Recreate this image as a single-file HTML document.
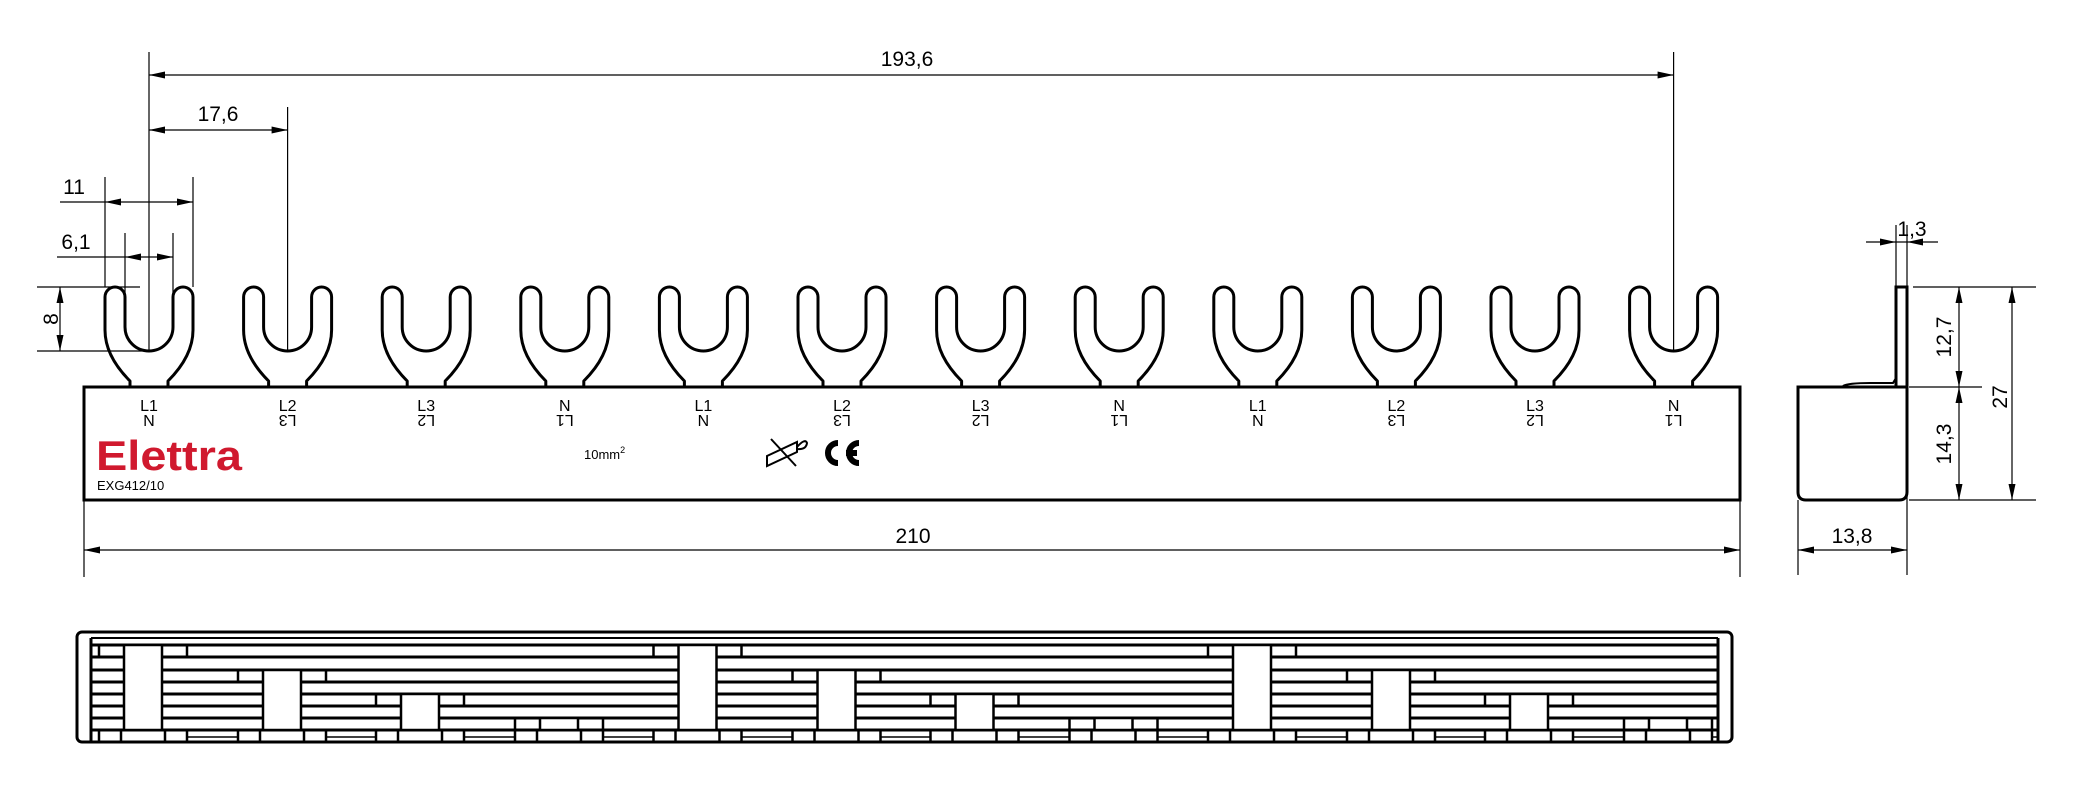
<!DOCTYPE html>
<html><head><meta charset="utf-8"><style>
html,body{margin:0;padding:0;background:#fff;}
svg{display:block;}
text{font-family:"Liberation Sans Narrow","Liberation Sans",sans-serif;fill:#000;}
</style></head><body>
<svg width="2089" height="802" viewBox="0 0 2089 802" xmlns="http://www.w3.org/2000/svg">
<defs>
<path id="fork" d="M-19,388 L-19,381 Q-44,356 -44,330 L-44,297 A10,10 0 0 1 -24,297 L-24,327 A24,24 0 0 0 24,327 L24,297 A10,10 0 0 1 44,297 L44,330 Q44,356 19,381 L19,388" fill="none" stroke="#000" stroke-width="3" stroke-linejoin="round"/>
<path id="arR" d="M0,0 L-16,-3.5 L-16,3.5 Z" fill="#000"/>
<path id="arL" d="M0,0 L16,-3.5 L16,3.5 Z" fill="#000"/>
<path id="arD" d="M0,0 L-3.5,-16 L3.5,-16 Z" fill="#000"/>
<path id="arU" d="M0,0 L-3.5,16 L3.5,16 Z" fill="#000"/>
<clipPath id="inner"><rect x="90" y="630" width="1629" height="120"/></clipPath>
</defs>

<path d="M84,500 L84,387 L1740,387 L1740,500 Z" fill="none" stroke="#000" stroke-width="3"/>
<use href="#fork" x="149"/><use href="#fork" x="287.6"/><use href="#fork" x="426.2"/><use href="#fork" x="564.8"/>
<use href="#fork" x="703.4"/><use href="#fork" x="842"/><use href="#fork" x="980.6"/><use href="#fork" x="1119.2"/>
<use href="#fork" x="1257.8"/><use href="#fork" x="1396.4"/><use href="#fork" x="1535"/><use href="#fork" x="1673.6"/>

<g font-size="16" text-anchor="middle">
<text x="149" y="411">L1</text><text x="287.6" y="411">L2</text><text x="426.2" y="411">L3</text><text x="564.8" y="411">N</text>
<text x="703.4" y="411">L1</text><text x="842" y="411">L2</text><text x="980.6" y="411">L3</text><text x="1119.2" y="411">N</text>
<text x="1257.8" y="411">L1</text><text x="1396.4" y="411">L2</text><text x="1535" y="411">L3</text><text x="1673.6" y="411">N</text>
<text transform="translate(149,415) rotate(180)">N</text><text transform="translate(287.6,415) rotate(180)">L3</text><text transform="translate(426.2,415) rotate(180)">L2</text><text transform="translate(564.8,415) rotate(180)">L1</text>
<text transform="translate(703.4,415) rotate(180)">N</text><text transform="translate(842,415) rotate(180)">L3</text><text transform="translate(980.6,415) rotate(180)">L2</text><text transform="translate(1119.2,415) rotate(180)">L1</text>
<text transform="translate(1257.8,415) rotate(180)">N</text><text transform="translate(1396.4,415) rotate(180)">L3</text><text transform="translate(1535,415) rotate(180)">L2</text><text transform="translate(1673.6,415) rotate(180)">L1</text>
</g>
<text x="96" y="470" font-size="42" font-weight="bold" textLength="146" lengthAdjust="spacingAndGlyphs" style="font-family:'Liberation Sans',sans-serif;fill:#d0192e">Elettra</text>
<text x="97" y="490" font-size="13" style="font-family:'Liberation Sans',sans-serif">EXG412/10</text>
<text x="584" y="459" font-size="13">10mm<tspan dy="-6" font-size="9">2</tspan></text>
<g fill="none" stroke="#000" stroke-width="2">
<path d="M767,456 L767,466 L797,452 L797,442 Z M797,447 Q805,438 807,443 Q806,450 797,449"/>
<path d="M771,439 L796,466"/>
</g>
<g fill="none" stroke="#000" stroke-width="6">
<path d="M838,443 A10,10 0 1 0 838,463"/>
<path d="M859,443 A10,10 0 1 0 859,463 M846,453 L857,453"/>
</g>

<g stroke="#000" stroke-width="1.2" fill="none">
<line x1="149" y1="52" x2="149" y2="351"/>
<line x1="1673.6" y1="52" x2="1673.6" y2="351"/>
<line x1="149" y1="75" x2="1673.6" y2="75"/>
<line x1="287.6" y1="107" x2="287.6" y2="351"/>
<line x1="149" y1="130" x2="287.6" y2="130"/>
<line x1="105" y1="177" x2="105" y2="287"/>
<line x1="193" y1="177" x2="193" y2="287"/>
<line x1="60" y1="202" x2="193" y2="202"/>
<line x1="125" y1="233" x2="125" y2="297"/>
<line x1="173" y1="233" x2="173" y2="297"/>
<line x1="57" y1="257" x2="173" y2="257"/>
<line x1="37" y1="287" x2="140" y2="287"/>
<line x1="37" y1="351" x2="149" y2="351"/>
<line x1="60" y1="287" x2="60" y2="351"/>
<line x1="84" y1="500" x2="84" y2="577"/>
<line x1="1740" y1="500" x2="1740" y2="577"/>
<line x1="84" y1="550" x2="1740" y2="550"/>
<line x1="1896" y1="225" x2="1896" y2="287"/>
<line x1="1907" y1="225" x2="1907" y2="575"/>
<line x1="1866" y1="242" x2="1938" y2="242"/>
<line x1="1913" y1="287" x2="2036" y2="287"/>
<line x1="1909" y1="387" x2="1982" y2="387"/>
<line x1="1909" y1="500" x2="2036" y2="500"/>
<line x1="1959" y1="287" x2="1959" y2="500"/>
<line x1="2012" y1="287" x2="2012" y2="500"/>
<line x1="1798" y1="500" x2="1798" y2="575"/>
<line x1="1798" y1="550" x2="1907" y2="550"/>
</g>
<use href="#arL" x="149" y="75"/><use href="#arR" x="1673.6" y="75"/>
<use href="#arL" x="149" y="130"/><use href="#arR" x="287.6" y="130"/>
<use href="#arL" x="105" y="202"/><use href="#arR" x="193" y="202"/>
<use href="#arL" x="125" y="257"/><use href="#arR" x="173" y="257"/>
<use href="#arU" x="60" y="287"/><use href="#arD" x="60" y="351"/>
<use href="#arL" x="84" y="550"/><use href="#arR" x="1740" y="550"/>
<use href="#arR" x="1896" y="242"/><use href="#arL" x="1907" y="242"/>
<use href="#arU" x="1959" y="287"/><use href="#arD" x="1959" y="387"/>
<use href="#arU" x="1959" y="387"/><use href="#arD" x="1959" y="500"/>
<use href="#arU" x="2012" y="287"/><use href="#arD" x="2012" y="500"/>
<use href="#arL" x="1798" y="550"/><use href="#arR" x="1907" y="550"/>

<g font-size="21" text-anchor="middle">
<text x="907" y="66">193,6</text>
<text x="218" y="121">17,6</text>
<text x="74" y="194">11</text>
<text x="76" y="249">6,1</text>
<text transform="translate(51,319) rotate(-90)" y="7">8</text>
<text x="913" y="543">210</text>
<text x="1912" y="236">1,3</text>
<text transform="translate(1944,337) rotate(-90)" y="7">12,7</text>
<text transform="translate(1944,444) rotate(-90)" y="7">14,3</text>
<text transform="translate(2000,397) rotate(-90)" y="7">27</text>
<text x="1852" y="543">13,8</text>
</g>

<rect x="1896" y="287" width="11" height="100" fill="none" stroke="#000" stroke-width="3"/>
<path d="M1798,387 L1907,387 L1907,492 Q1907,500 1899,500 L1806,500 Q1798,500 1798,492 Z" fill="none" stroke="#000" stroke-width="3"/>
<path d="M1843,386 Q1848,383 1870,383 L1893,383 L1896,378" fill="none" stroke="#000" stroke-width="2"/>

<rect x="77" y="632" width="1655" height="110" rx="5" fill="none" stroke="#000" stroke-width="3"/>
<g stroke="#000" fill="none">
<line x1="91" y1="638" x2="1718" y2="638" stroke-width="2"/>
<g stroke-width="3">
<line x1="91" y1="645" x2="1718" y2="645"/>
<line x1="91" y1="657" x2="1718" y2="657"/>
<line x1="91" y1="670" x2="1718" y2="670"/>
<line x1="91" y1="682" x2="1718" y2="682"/>
<line x1="91" y1="694" x2="1718" y2="694"/>
<line x1="91" y1="706" x2="1718" y2="706"/>
<line x1="91" y1="718" x2="1718" y2="718"/>
<line x1="91" y1="730" x2="1718" y2="730"/>
<line x1="91" y1="742" x2="1718" y2="742"/>
<line x1="91" y1="638" x2="91" y2="742"/>
<line x1="1718" y1="638" x2="1718" y2="742"/>
</g>
</g>
<g clip-path="url(#inner)">
<g id="grp" stroke="#000" stroke-width="2.5">
<rect x="124" y="645" width="38" height="85" fill="#fff"/>
<rect x="263" y="670" width="38" height="60" fill="#fff"/>
<rect x="401" y="694" width="38" height="36" fill="#fff"/>
<rect x="540" y="718" width="38" height="12" fill="#fff"/>
<line x1="99" y1="645" x2="99" y2="657"/><line x1="187" y1="645" x2="187" y2="657"/>
<line x1="238" y1="670" x2="238" y2="682"/><line x1="326" y1="670" x2="326" y2="682"/>
<line x1="376" y1="694" x2="376" y2="706"/><line x1="464" y1="694" x2="464" y2="706"/>
<line x1="515" y1="718" x2="515" y2="730"/><line x1="603" y1="718" x2="603" y2="730"/>
<line x1="99" y1="730" x2="99" y2="742"/><line x1="121" y1="730" x2="121" y2="742"/><line x1="165" y1="730" x2="165" y2="742"/><line x1="187" y1="730" x2="187" y2="742"/>
<line x1="238" y1="730" x2="238" y2="742"/><line x1="260" y1="730" x2="260" y2="742"/><line x1="304" y1="730" x2="304" y2="742"/><line x1="326" y1="730" x2="326" y2="742"/>
<line x1="376" y1="730" x2="376" y2="742"/><line x1="398" y1="730" x2="398" y2="742"/><line x1="442" y1="730" x2="442" y2="742"/><line x1="464" y1="730" x2="464" y2="742"/>
<line x1="515" y1="730" x2="515" y2="742"/><line x1="537" y1="730" x2="537" y2="742"/><line x1="581" y1="730" x2="581" y2="742"/><line x1="603" y1="730" x2="603" y2="742"/>
<g stroke-width="1.5">
<line x1="187" y1="737" x2="238" y2="737"/><line x1="326" y1="737" x2="376" y2="737"/>
<line x1="464" y1="737" x2="515" y2="737"/><line x1="603" y1="737" x2="653" y2="737"/>
</g>
</g>
<use href="#grp" x="554.5"/>
<use href="#grp" x="1109"/>
</g>
</svg>
</body></html>
